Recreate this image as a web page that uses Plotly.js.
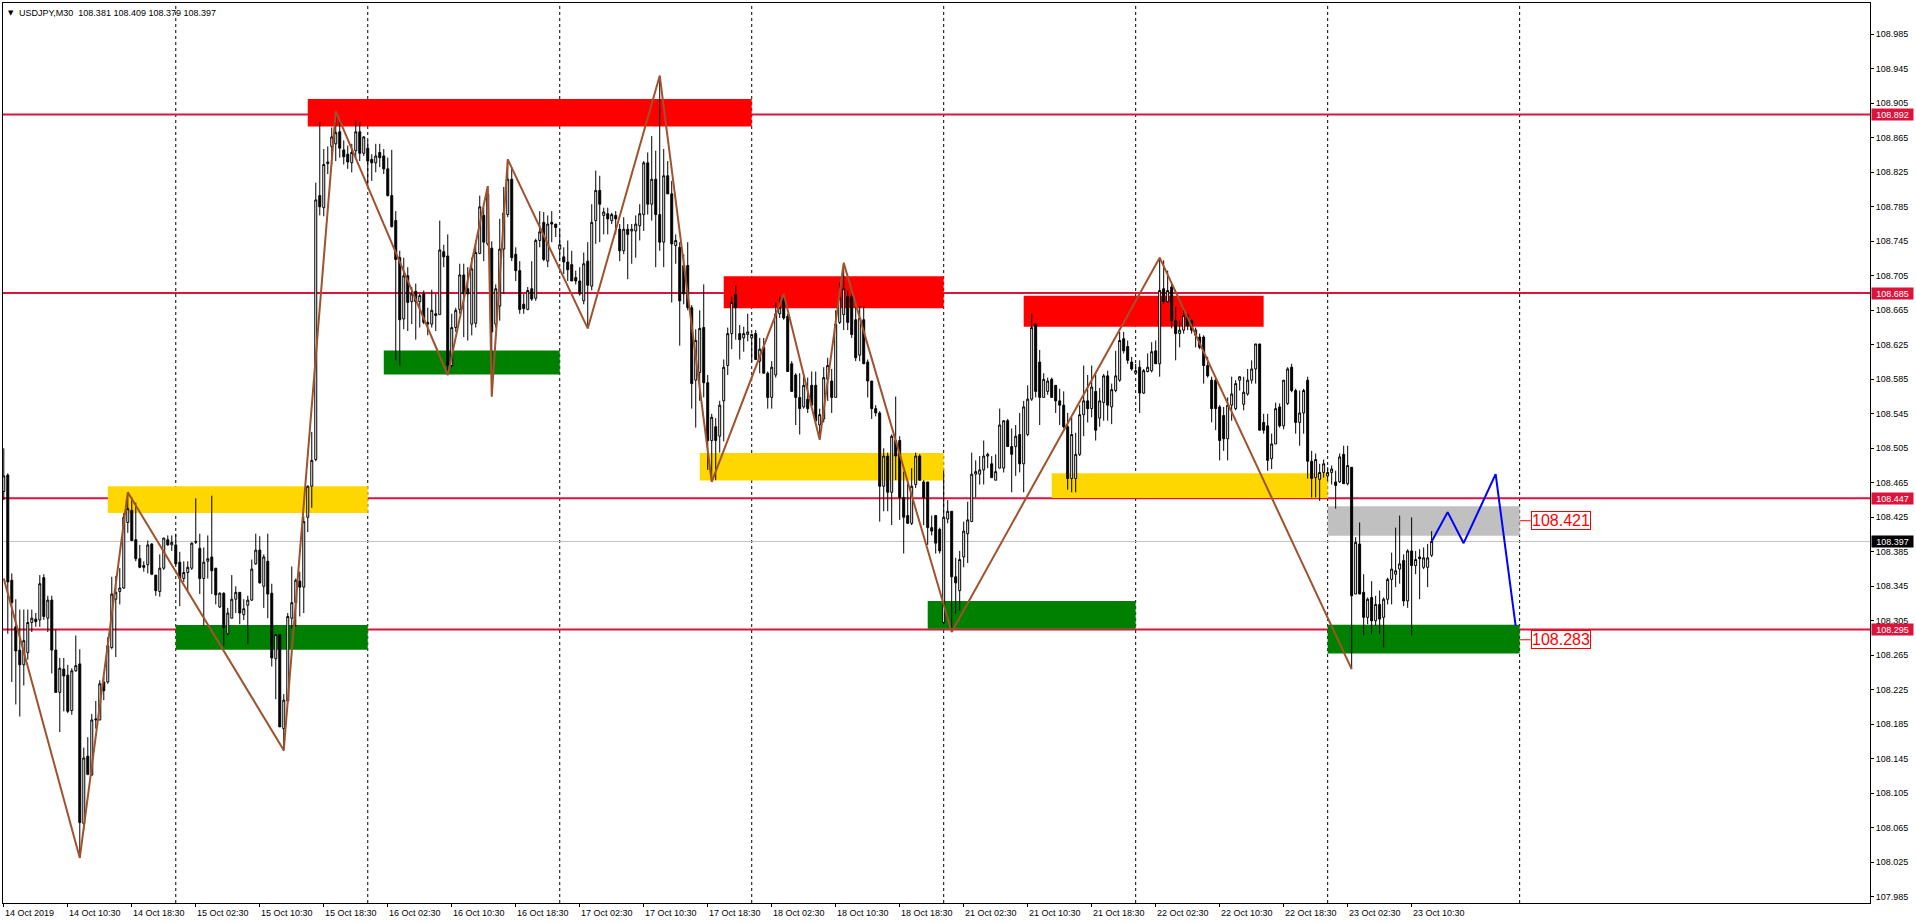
<!DOCTYPE html>
<html><head><meta charset="utf-8">
<script src="https://cdn.plot.ly/plotly-3.0.1.min.js"></script>
<style>html,body{margin:0;padding:0;background:#fff;overflow:hidden}#chart{width:1916px;height:923px}</style>
</head><body><div id="chart"></div>
<script>
const symbolName = "USDJPY,M30";

const openP = [
108.455,108.474,108.352,108.298,108.271,108.254,108.268,108.303,108.307,108.306,
108.355,108.308,108.329,108.271,108.222,108.249,108.242,108.201,108.247,108.255,
108.070,108.148,108.126,108.190,108.190,108.234,108.234,108.274,108.330,108.339,
108.343,108.419,108.433,108.399,108.377,108.369,108.370,108.394,108.358,108.339,
108.366,108.399,108.393,108.393,108.373,108.354,108.361,108.366,108.396,108.389,
108.354,108.374,108.379,108.366,108.321,108.337,108.290,108.308,108.330,108.338,
108.312,108.323,108.329,108.371,108.387,108.345,108.374,108.337,108.261,108.289,
108.180,108.212,108.308,108.326,108.351,108.344,108.425,108.461,108.492,108.798,
108.784,108.835,108.855,108.858,108.872,108.851,108.846,108.836,108.850,108.872,
108.847,108.853,108.840,108.836,108.848,108.844,108.829,108.798,108.769,108.726,
108.655,108.705,108.675,108.687,108.675,108.684,108.651,108.649,108.661,108.660,
108.733,108.728,108.601,108.645,108.666,108.706,108.690,108.649,108.650,108.731,
108.775,108.742,108.737,108.649,108.670,108.736,108.776,108.817,108.730,108.711,
108.672,108.666,108.690,108.679,108.746,108.767,108.722,108.767,108.765,108.736,
108.727,108.721,108.718,108.703,108.699,108.676,108.722,108.693,108.769,108.804,
108.775,108.777,108.769,108.775,108.759,108.734,108.759,108.757,108.757,108.763,
108.776,108.836,108.788,108.817,108.776,108.744,108.821,108.800,108.740,108.738,
108.717,108.717,108.668,108.584,108.593,108.645,108.581,108.514,108.530,108.519,
108.560,108.601,108.638,108.683,108.638,108.633,108.637,108.633,108.638,108.606,
108.622,108.592,108.564,108.590,108.661,108.681,108.658,108.603,108.590,108.564,
108.553,108.562,108.578,108.578,108.532,108.539,108.585,108.583,108.564,108.651,
108.660,108.681,108.681,108.654,108.613,108.654,108.605,108.583,108.551,108.546,
108.461,108.496,108.454,108.514,108.514,108.448,108.427,108.418,108.463,108.496,
108.466,108.466,108.413,108.427,108.411,108.303,108.423,108.432,108.356,108.340,
108.379,108.406,108.420,108.475,108.475,108.480,108.496,108.487,108.468,108.482,
108.482,108.537,108.507,108.507,108.521,108.487,108.521,108.562,108.649,108.605,
108.564,108.571,108.585,108.578,108.560,108.555,108.530,108.470,108.470,108.498,
108.544,108.560,108.551,108.571,108.540,108.558,108.589,108.553,108.572,108.584,
108.632,108.623,108.605,108.592,108.599,108.569,108.594,108.595,108.618,108.603,
108.690,108.675,108.692,108.653,108.638,108.642,108.659,108.653,108.636,108.634,
108.634,108.601,108.584,108.584,108.553,108.543,108.516,108.555,108.551,108.584,
108.556,108.568,108.584,108.597,108.626,108.535,108.531,108.493,108.510,108.553,
108.531,108.557,108.599,108.572,108.535,108.546,108.584,108.490,108.471,108.469,
108.477,108.473,108.477,108.466,108.466,108.498,108.464,108.483,108.336,108.394,
108.338,108.309,108.332,108.305,108.324,108.309,108.330,108.353,108.359,108.365,
108.375,108.328,108.386,108.369,108.379,108.367,108.367,108.381];

const highP = [
108.505,108.476,108.360,108.330,108.318,108.318,108.318,108.318,108.314,108.358,
108.359,108.334,108.334,108.295,108.262,108.262,108.254,108.250,108.288,108.272,
108.158,108.170,108.197,108.212,108.236,108.240,108.286,108.356,108.357,108.366,
108.430,108.454,108.448,108.442,108.393,108.374,108.398,108.395,108.358,108.382,
108.401,108.404,108.404,108.406,108.385,108.374,108.374,108.396,108.447,108.406,
108.390,108.404,108.450,108.366,108.338,108.338,108.320,108.358,108.345,108.338,
108.330,108.334,108.376,108.406,108.403,108.382,108.406,108.348,108.290,108.289,
108.220,108.314,108.368,108.354,108.362,108.426,108.462,108.524,108.813,108.883,
108.852,108.855,108.877,108.896,108.885,108.862,108.856,108.858,108.885,108.883,
108.867,108.862,108.846,108.858,108.858,108.852,108.842,108.851,108.780,108.734,
108.726,108.715,108.692,108.696,108.684,108.688,108.668,108.689,108.684,108.769,
108.741,108.753,108.661,108.668,108.719,108.719,108.715,108.726,108.746,108.798,
108.784,108.809,108.745,108.695,108.771,108.808,108.840,108.831,108.738,108.722,
108.684,108.692,108.722,108.748,108.780,108.779,108.775,108.780,108.765,108.759,
108.738,108.746,108.734,108.711,108.715,108.732,108.744,108.788,108.827,108.821,
108.784,108.784,108.778,108.780,108.765,108.773,108.765,108.765,108.775,108.788,
108.838,108.848,108.867,108.850,108.937,108.852,108.838,108.815,108.753,108.744,
108.730,108.744,108.671,108.643,108.665,108.695,108.590,108.545,108.540,108.560,
108.608,108.645,108.681,108.694,108.648,108.646,108.661,108.638,108.642,108.633,
108.633,108.594,108.606,108.674,108.681,108.684,108.661,108.606,108.592,108.592,
108.590,108.587,108.594,108.594,108.551,108.599,108.610,108.597,108.665,108.697,
108.720,108.688,108.684,108.668,108.670,108.670,108.608,108.583,108.555,108.548,
108.505,108.500,108.521,108.565,108.519,108.478,108.464,108.482,108.500,108.498,
108.468,108.466,108.427,108.427,108.413,108.479,108.445,108.432,108.378,108.386,
108.420,108.443,108.500,108.491,108.496,108.514,108.500,108.496,108.498,108.551,
108.537,108.539,108.528,108.532,108.546,108.560,108.578,108.661,108.649,108.619,
108.592,108.587,108.587,108.578,108.574,108.571,108.546,108.541,108.523,108.555,
108.601,108.590,108.601,108.592,108.575,108.591,108.595,108.580,108.618,108.640,
108.640,108.630,108.611,108.603,108.607,108.597,108.615,108.628,108.630,108.726,
108.723,108.711,108.696,108.669,108.653,108.669,108.661,108.655,108.645,108.638,
108.636,108.611,108.588,108.586,108.555,108.553,108.564,108.588,108.584,108.588,
108.588,108.597,108.607,108.626,108.626,108.545,108.545,108.522,108.558,108.557,
108.584,108.599,108.603,108.574,108.572,108.574,108.588,108.502,108.499,108.487,
108.492,108.483,108.485,108.479,108.499,108.508,108.508,108.483,108.402,108.419,
108.359,108.332,108.351,108.334,108.340,108.332,108.355,108.384,108.413,108.427,
108.382,108.388,108.425,108.386,108.388,108.390,108.394,108.409];

const lowP = [
108.445,108.290,108.234,108.208,108.194,108.230,108.260,108.292,108.298,108.298,
108.306,108.292,108.244,108.222,108.176,108.200,108.198,108.196,108.246,108.030,
108.062,108.126,108.126,108.180,108.190,108.213,108.232,108.272,108.263,108.324,
108.342,108.407,108.398,108.374,108.366,108.362,108.360,108.358,108.334,108.333,
108.364,108.392,108.386,108.370,108.322,108.350,108.340,108.364,108.394,108.336,
108.299,108.354,108.336,108.324,108.320,108.276,108.288,108.308,108.314,108.301,
108.306,108.278,108.328,108.370,108.348,108.320,108.308,108.252,108.214,108.182,
108.154,108.212,108.296,108.298,108.310,108.314,108.408,108.436,108.490,108.775,
108.774,108.823,108.834,108.838,108.842,108.834,108.829,108.825,108.842,108.838,
108.844,108.808,108.815,108.825,108.831,108.823,108.797,108.761,108.607,108.601,
108.643,108.641,108.649,108.631,108.645,108.649,108.636,108.645,108.641,108.660,
108.715,108.590,108.599,108.640,108.661,108.634,108.630,108.636,108.645,108.730,
108.722,108.740,108.565,108.645,108.653,108.684,108.773,108.722,108.699,108.661,
108.661,108.665,108.676,108.676,108.738,108.722,108.715,108.744,108.750,108.722,
108.707,108.699,108.699,108.695,108.682,108.672,108.644,108.688,108.742,108.744,
108.753,108.753,108.765,108.753,108.722,108.730,108.701,108.719,108.726,108.746,
108.757,108.776,108.769,108.715,108.734,108.715,108.800,108.674,108.719,108.624,
108.672,108.665,108.551,108.529,108.560,108.564,108.480,108.466,108.468,108.500,
108.513,108.590,108.620,108.631,108.608,108.617,108.629,108.605,108.608,108.592,
108.592,108.551,108.551,108.587,108.656,108.654,108.594,108.571,108.532,108.521,
108.551,108.546,108.555,108.535,108.515,108.535,108.560,108.546,108.564,108.649,
108.642,108.642,108.633,108.606,108.606,108.603,108.564,108.539,108.542,108.420,
108.432,108.432,108.416,108.468,108.422,108.383,108.418,108.416,108.459,108.468,
108.416,108.393,108.404,108.383,108.383,108.301,108.418,108.292,108.313,108.317,
108.367,108.372,108.420,108.448,108.463,108.463,108.482,108.471,108.468,108.482,
108.477,108.507,108.454,108.473,108.477,108.454,108.519,108.560,108.564,108.532,
108.564,108.567,108.564,108.546,108.532,108.528,108.457,108.454,108.454,108.496,
108.519,108.535,108.541,108.514,108.530,108.537,108.537,108.533,108.570,108.582,
108.615,108.603,108.595,108.591,108.546,108.568,108.593,108.593,108.603,108.588,
108.673,108.673,108.644,108.607,108.622,108.638,108.642,108.638,108.622,108.620,
108.580,108.587,108.535,108.526,108.491,108.502,108.491,108.537,108.549,108.572,
108.549,108.566,108.580,108.580,108.526,108.522,108.479,108.481,108.510,108.529,
108.527,108.555,108.570,108.522,108.508,108.522,108.470,108.448,108.448,108.444,
108.471,108.467,108.463,108.435,108.465,108.464,108.462,108.249,108.336,108.336,
108.288,108.301,108.290,108.299,108.290,108.274,108.324,108.324,108.344,108.348,
108.322,108.320,108.288,108.359,108.330,108.365,108.344,108.379];

const closeP = [
108.473,108.350,108.326,108.270,108.254,108.282,108.303,108.308,108.304,108.348,
108.310,108.329,108.271,108.222,108.250,108.241,108.200,108.247,108.253,108.071,
108.146,108.127,108.190,108.191,108.232,108.224,108.276,108.336,108.338,108.343,
108.425,108.435,108.398,108.377,108.367,108.367,108.393,108.359,108.340,108.366,
108.401,108.393,108.396,108.371,108.354,108.361,108.367,108.395,108.397,108.354,
108.373,108.377,108.363,108.335,108.337,108.297,108.314,108.330,108.338,108.314,
108.319,108.329,108.365,108.387,108.349,108.379,108.336,108.262,108.289,108.182,
108.213,108.310,108.326,108.352,108.344,108.420,108.461,108.491,108.793,108.785,
108.834,108.837,108.866,108.871,108.853,108.843,108.837,108.848,108.872,108.847,
108.866,108.838,108.836,108.844,108.842,108.829,108.798,108.762,108.724,108.654,
108.705,108.674,108.684,108.675,108.682,108.651,108.649,108.665,108.659,108.735,
108.727,108.601,108.645,108.665,108.706,108.684,108.684,108.713,108.732,108.785,
108.744,108.800,108.640,108.690,108.736,108.778,108.817,108.726,108.711,108.666,
108.667,108.688,108.678,108.746,108.756,108.724,108.765,108.765,108.761,108.741,
108.721,108.712,108.699,108.699,108.684,108.719,108.694,108.767,108.804,108.788,
108.779,108.771,108.776,108.771,108.734,108.759,108.753,108.759,108.765,108.777,
108.836,108.788,108.817,108.776,108.744,108.821,108.800,108.742,108.746,108.676,
108.684,108.668,108.580,108.630,108.644,108.581,108.514,108.541,108.514,108.555,
108.599,108.638,108.674,108.668,108.631,108.638,108.640,108.637,108.608,108.620,
108.592,108.564,108.599,108.661,108.668,108.656,108.594,108.571,108.564,108.551,
108.578,108.551,108.555,108.537,108.544,108.587,108.601,108.564,108.649,108.679,
108.690,108.651,108.637,108.610,108.656,108.603,108.583,108.551,108.546,108.461,
108.496,108.454,108.519,108.496,108.448,108.425,108.418,108.461,108.496,108.468,
108.448,108.413,108.409,108.395,108.386,108.425,108.432,108.356,108.349,108.376,
108.409,108.422,108.475,108.478,108.480,108.496,108.498,108.471,108.478,108.532,
108.537,108.507,108.498,108.519,108.487,108.553,108.562,108.645,108.571,108.564,
108.585,108.583,108.564,108.560,108.555,108.530,108.470,108.521,108.498,108.544,
108.560,108.551,108.576,108.526,108.560,108.589,108.555,108.573,108.589,108.630,
108.618,108.607,108.597,108.595,108.569,108.595,108.599,108.617,108.603,108.688,
108.675,108.688,108.653,108.638,108.642,108.659,108.647,108.642,108.642,108.622,
108.601,108.589,108.551,108.551,108.514,108.516,108.555,108.568,108.580,108.588,
108.570,108.584,108.597,108.626,108.526,108.526,108.491,108.510,108.551,108.531,
108.584,108.597,108.572,108.535,108.546,108.572,108.490,108.470,108.492,108.477,
108.487,108.477,108.481,108.462,108.495,108.464,108.485,108.334,108.396,108.336,
108.309,108.330,108.305,108.324,108.307,108.330,108.353,108.365,108.363,108.371,
108.328,108.386,108.369,108.376,108.377,108.378,108.378,108.397];

// time axis labels, one every 16 bars (8 hours of M30)
const xTickLabels = ["14 Oct 2019","14 Oct 10:30","14 Oct 18:30","15 Oct 02:30","15 Oct 10:30","15 Oct 18:30",
  "16 Oct 02:30","16 Oct 10:30","16 Oct 18:30","17 Oct 02:30","17 Oct 10:30","17 Oct 18:30",
  "18 Oct 02:30","18 Oct 10:30","18 Oct 18:30","21 Oct 02:30","21 Oct 10:30","21 Oct 18:30",
  "22 Oct 02:30","22 Oct 10:30","22 Oct 18:30","23 Oct 02:30","23 Oct 10:30"];
const barsPerLabel = 16;
// day separators (bar index of each day start)
const daySeparators = [43, 91, 139, 187, 235, 283, 331, 379];

// zigzag pivots
const zigzagIdx   = [0, 19, 31, 70, 83, 111, 121, 122, 126, 146, 164, 177, 195, 204, 210, 237, 289, 337];
const zigzagPrice = [108.354,108.030,108.454,108.155,108.896,108.590,108.809,108.565,108.840,108.644,108.937,108.466,108.684,108.515,108.720,108.292,108.726,108.249];

// blue projection
const forecastIdx   = [357, 361, 365, 373, 378];
const forecastPrice = [108.397, 108.431, 108.395, 108.475, 108.299];

// horizontal levels
const levelPrices = [108.892, 108.685, 108.447, 108.295];

// zones
const zoneStart = [76, 180, 255, 26, 174, 262, 95, 43, 231, 331, 331];
const zoneEnd   = [187, 235, 315, 91, 235, 331, 139, 91, 283, 379, 379];
const zoneLow   = [108.878, 108.6675, 108.646, 108.430, 108.4676, 108.4475, 108.5905, 108.2714, 108.2959, 108.267, 108.4037];
const zoneHigh  = [108.910, 108.7046, 108.682, 108.461, 108.4996, 108.476, 108.6183, 108.3002, 108.328, 108.3003, 108.4377];
const zoneColor = ["#FF0000","#FF0000","#FF0000","#FFD700","#FFD700","#FFD700","#008000","#008000","#008000","#008000","#C0C0C0"];

// target price labels
const targetPrices = [108.421, 108.283];
const targetBar = 379;

const N = openP.length;
const barIdx = openP.map((_, i) => i);
const lastO = openP[N-1], lastH = highP[N-1], lastL = lowP[N-1], lastC = closeP[N-1];

const FONT = "Liberation Sans, Arial, sans-serif";

const shapes = [];
for (let k = 0; k < zoneStart.length; k++) {
  shapes.push({type:'rect', xref:'x', yref:'y', x0:zoneStart[k], x1:zoneEnd[k], y0:zoneLow[k], y1:zoneHigh[k],
    fillcolor:zoneColor[k], line:{width:0}, layer:'below'});
}
daySeparators.forEach(d => shapes.push({type:'line', xref:'x', yref:'paper', x0:d, x1:d, y0:0, y1:1,
  line:{color:'#000', width:1, dash:'3px,3px'}, layer:'below'}));
shapes.push({type:'line', xref:'paper', yref:'y', x0:0, x1:1, y0:lastC, y1:lastC, line:{color:'#C0C0C0', width:1}, layer:'below'});
levelPrices.forEach(p => shapes.push({type:'line', xref:'paper', yref:'y', x0:0, x1:1, y0:p, y1:p,
  line:{color:'#DC143C', width:2}, layer:'below'}));

const annotations = [];
annotations.push({xref:'paper', yref:'paper', x:0, y:1, xanchor:'left', yanchor:'top', xshift:3, yshift:-4,
  text:'▼', showarrow:false, font:{family:'DejaVu Sans', size:7, color:'#000'}});
annotations.push({xref:'paper', yref:'paper', x:0, y:1, xanchor:'left', yanchor:'top', xshift:14, yshift:-3,
  text: symbolName + '\u00a0\u00a0' + [lastO,lastH,lastL,lastC].map(v=>v.toFixed(3)).join(' '),
  showarrow:false, font:{family:FONT, size:9, color:'#000'}});
levelPrices.forEach(p => annotations.push({xref:'paper', yref:'y', x:1, y:p, xanchor:'left', yanchor:'middle', xshift:1,
  text:p.toFixed(3), showarrow:false, bgcolor:'#DC143C', width:41, height:11, borderpad:0,
  font:{family:FONT, size:9, color:'#fff'}}));
annotations.push({xref:'paper', yref:'y', x:1, y:lastC, xanchor:'left', yanchor:'middle', xshift:1,
  text:lastC.toFixed(3), showarrow:false, bgcolor:'#000', width:41, height:11, borderpad:0,
  font:{family:FONT, size:9, color:'#fff'}});
targetPrices.forEach(p => annotations.push({xref:'x', yref:'y', x:targetBar, y:p, showarrow:true, arrowhead:0,
  arrowwidth:1, arrowcolor:'#FF0000', ax:11, ay:0, xanchor:'left', yanchor:'middle',
  text:p.toFixed(3), font:{family:FONT, size:16, color:'#FF0000'}, bgcolor:'#fff', bordercolor:'#FF0000', borderwidth:1, borderpad:0}));
xTickLabels.forEach((t, k) => annotations.push({xref:'x', yref:'paper', x:k*barsPerLabel, y:0, xanchor:'left', yanchor:'top',
  yshift:-3, xshift:-1, text:t, showarrow:false, font:{family:FONT, size:9, color:'#000'}}));

const traces = [
  {type:'candlestick', x:barIdx, open:openP, high:highP, low:lowP, close:closeP,
   increasing:{line:{color:'#000', width:1}, fillcolor:'#FFFFFF'},
   decreasing:{line:{color:'#000', width:1}, fillcolor:'#000000'},
   whiskerwidth:0, hoverinfo:'skip', showlegend:false},
  {type:'scatter', mode:'lines', x:zigzagIdx, y:zigzagPrice, line:{color:'#A0522D', width:2}, hoverinfo:'skip', showlegend:false},
  {type:'scatter', mode:'lines', x:forecastIdx, y:forecastPrice, line:{color:'#0000FF', width:2}, hoverinfo:'skip', showlegend:false}
];

const layout = {
  width:1916, height:923,
  margin:{l:3, r:46, t:3, b:20, pad:0},
  paper_bgcolor:'#fff', plot_bgcolor:'#fff',
  showlegend:false, dragmode:false,
  xaxis:{range:[-0.2, 466.6], showgrid:false, zeroline:false, showline:true, mirror:true,
    linecolor:'#000', linewidth:1, ticks:'outside', ticklen:3, tickcolor:'#000',
    tickvals:xTickLabels.map((_, k) => k*barsPerLabel), showticklabels:false,
    rangeslider:{visible:false}, fixedrange:true},
  yaxis:{range:[107.9778, 109.0213], side:'right', showgrid:false, zeroline:false, showline:true, mirror:true,
    linecolor:'#000', linewidth:1, tick0:107.985, dtick:0.04, tickformat:'.3f',
    ticks:'outside', ticklen:3, tickcolor:'#000', fixedrange:true,
    tickfont:{family:FONT, size:9, color:'#000'}},
  shapes:shapes, annotations:annotations
};

Plotly.newPlot('chart', traces, layout, {staticPlot:true, displayModeBar:false});
</script></body></html>
